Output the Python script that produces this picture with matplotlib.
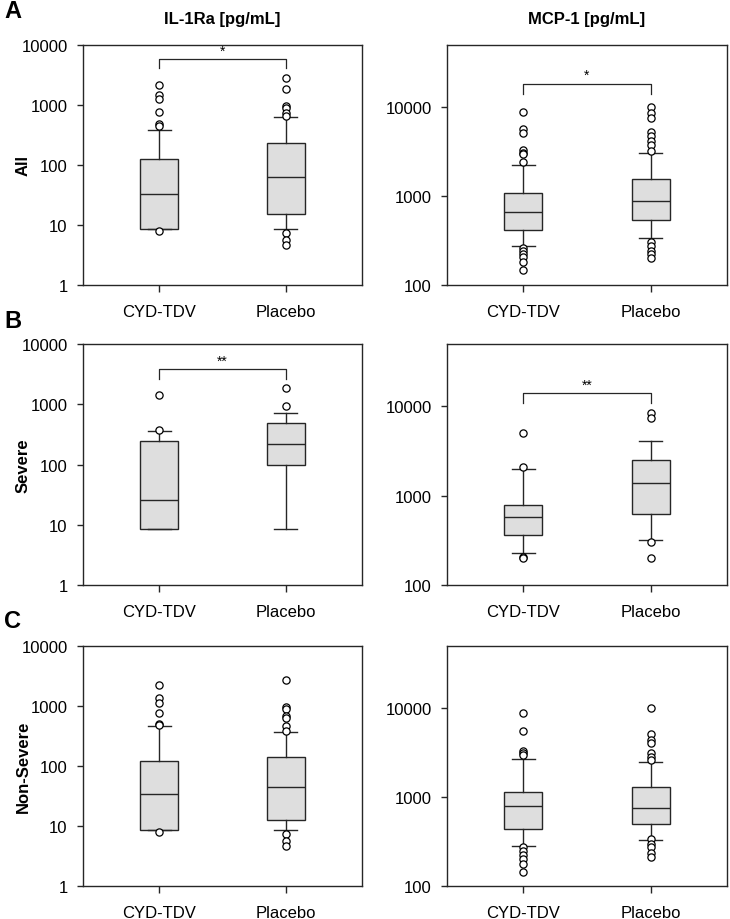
import matplotlib
matplotlib.use("Agg")
import matplotlib.pyplot as plt
from matplotlib.ticker import FixedLocator, NullLocator

plt.rcParams['font.family'] = ['Liberation Sans', 'DejaVu Sans']

groups = ["CYD-TDV", "Placebo"]
rows = ["All", "Severe", "Non-Severe"]
letters = ["A", "B", "C"]
columns = ["IL-1Ra [pg/mL]", "MCP-1 [pg/mL]"]

# IL-1Ra: one entry per row, [CYD-TDV, Placebo]
il1ra_med = [[32.9, 64], [26.2, 218], [34.1, 44.7]]
il1ra_q1 = [[8.6, 15.3], [8.4, 98.7], [8.6, 12.6]]
il1ra_q3 = [[126, 230], [247, 480], [121, 143]]
il1ra_lo = [[8.6, 8.6], [8.4, 8.4], [8.6, 8.6]]
il1ra_hi = [[383, 639], [353, 722], [464, 369]]
il1ra_out = [
    [[2154, 1480, 1260, 755, 483, 452, 7.8],
     [2783, 1848, 975, 880, 735, 662, 7.3, 5.7, 4.7]],
    [[1420, 377],
     [1833, 944]],
    [[2210, 1360, 1136, 755, 495, 476, 7.9],
     [2712, 975, 880, 681, 639, 464, 383, 7.3, 5.6, 4.6]],
]

# MCP-1
mcp1_med = [[670, 890], [582, 1374], [792, 759]]
mcp1_q1 = [[414, 540], [366, 629], [437, 497]]
mcp1_q3 = [[1095, 1545], [787, 2487], [1148, 1284]]
mcp1_lo = [[276, 334], [230, 316], [279, 329]]
mcp1_hi = [[2236, 3022], [2005, 4055], [2650, 2473]]
mcp1_out = [
    [[8790, 5620, 5150, 3295, 3075, 2945, 2416, 264, 243, 223, 204, 180, 147],
     [10080, 8640, 7590, 5245, 4730, 4155, 3717, 3210, 301, 276, 243, 223, 199]],
    [[5070, 2112, 207, 199],
     [8350, 7460, 305, 199]],
    [[8790, 5515, 3290, 3150, 2965, 274, 247, 221, 199, 175, 145],
     [10000, 5150, 4335, 4045, 3150, 2815, 2583, 340, 299, 274, 237, 214]],
]

# significance brackets: (row, column) -> (label, top level, end level)
signif = {
    (0, 0): ("*", 5800, 4100),
    (0, 1): ("*", 18400, 13900),
    (1, 0): ("**", 3850, 2600),
    (1, 1): ("**", 14200, 11000),
}

col_data = [
    (il1ra_med, il1ra_q1, il1ra_q3, il1ra_lo, il1ra_hi, il1ra_out),
    (mcp1_med, mcp1_q1, mcp1_q3, mcp1_lo, mcp1_hi, mcp1_out),
]
ylims = [(1, 10000), (100, 50000)]
yticks = [[1, 10, 100, 1000, 10000], [100, 1000, 10000]]

W, H = 730, 920
fig = plt.figure(figsize=(W / 100, H / 100), dpi=100)

col_x = [(83, 362), (447, 727)]
row_y = [(46, 286), (345, 586), (647, 887)]
letter_y = [12, 322, 622]
edge = '#262626'

for r in range(3):
    for c in range(2):
        x0, x1 = col_x[c]
        y0, y1 = row_y[r]
        ax = fig.add_axes([x0 / W, 1 - y1 / H, (x1 - x0) / W, (y1 - y0) / H])
        med, q1, q3, lo, hi, out = col_data[c]
        stats = []
        for g in range(2):
            stats.append(dict(med=med[r][g], q1=q1[r][g], q3=q3[r][g],
                              whislo=lo[r][g], whishi=hi[r][g],
                              fliers=out[r][g], label=groups[g]))
        ax.bxp(stats, positions=[1, 2], widths=0.3, capwidths=0.18,
               patch_artist=True, showfliers=True,
               boxprops=dict(facecolor='#dedede', edgecolor=edge, linewidth=1.0),
               medianprops=dict(color=edge, linewidth=1.0),
               whiskerprops=dict(color=edge, linewidth=1.0),
               capprops=dict(color=edge, linewidth=1.0),
               flierprops=dict(marker='o', markerfacecolor='white',
                               markeredgecolor='black', markersize=5.2,
                               markeredgewidth=0.9))
        ax.set_yscale('log')
        ax.set_ylim(*ylims[c])
        ax.set_xlim(0.4, 2.6)
        ax.yaxis.set_major_locator(FixedLocator(yticks[c]))
        ax.yaxis.set_minor_locator(NullLocator())
        ax.set_yticklabels([str(t) for t in yticks[c]])
        ax.set_xticks([1, 2])
        ax.set_xticklabels(groups)
        ax.tick_params(axis='y', labelsize=12, length=4, width=1.0,
                       color=edge, pad=7)
        ax.tick_params(axis='x', labelsize=12, length=5, width=1.0,
                       color=edge, pad=9)
        for s in ax.spines.values():
            s.set_color(edge)
            s.set_linewidth(1.0)

        if (r, c) in signif:
            lab, top, end = signif[(r, c)]
            ax.plot([1, 1, 2, 2], [end, top, top, end], color=edge, lw=0.9)
            ax.text(1.5, top * 1.04, lab, ha='center', va='bottom', fontsize=10)

        if r == 0:
            ax.set_title(columns[c], fontsize=12, fontweight='bold', pad=16)

    yc = (row_y[r][0] + row_y[r][1]) / 2
    fig.text(23 / W, 1 - yc / H, rows[r], fontsize=12, fontweight='bold',
             rotation=90, ha='center', va='center')
    fig.text(4 / W, 1 - letter_y[r] / H, letters[r], fontsize=17,
             fontweight='bold', ha='left', va='center')

fig.savefig("out.png", dpi=100)
